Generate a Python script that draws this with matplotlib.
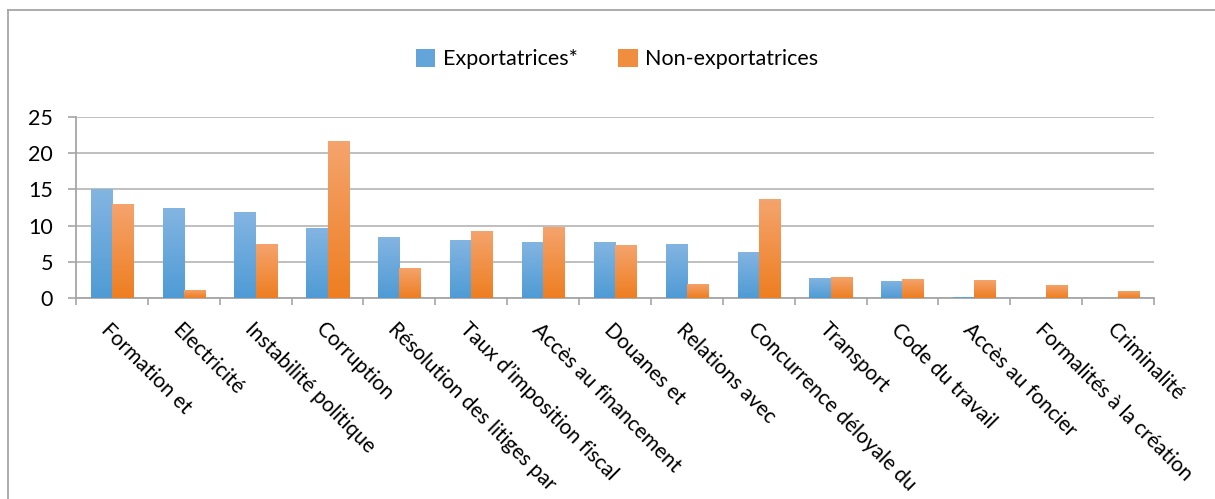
import numpy as np
import matplotlib
matplotlib.use("Agg")
import matplotlib.pyplot as plt
from matplotlib.patches import Patch
from matplotlib.lines import Line2D
from matplotlib.colors import LinearSegmentedColormap

plt.rcParams['font.family'] = ['Lato', 'DejaVu Sans']

categories = [
    "Formation et", "Electricité", "Instabilité politique", "Corruption",
    "Résolution des litiges par", "Taux d’imposition fiscal",
    "Accès au financement", "Douanes et", "Relations avec",
    "Concurrence déloyale du", "Transport", "Code du travail",
    "Accès au foncier", "Formalités à la création", "Criminalité",
]
exportatrices = [15.0, 12.4, 11.9, 9.7, 8.4, 8.0, 7.75, 7.75, 7.5, 6.4,
                 2.8, 2.4, 0.15, 0.0, 0.0]
non_exportatrices = [13.0, 1.15, 7.5, 21.65, 4.2, 9.3, 9.8, 7.3, 2.0, 13.7,
                     2.9, 2.65, 2.5, 1.8, 1.0]
series_names = ["Exportatrices*", "Non-exportatrices"]
yticks = [0, 5, 10, 15, 20, 25]

W, H = 1215, 499
fig = plt.figure(figsize=(W / 100, H / 100), dpi=100)
ax = fig.add_axes([76 / W, 1 - 298.3 / H, (1154 - 76) / W, (298.3 - 116.7) / H])

blue_cmap = LinearSegmentedColormap.from_list("b", ["#4F9BD5", "#84B5E2"])
orange_cmap = LinearSegmentedColormap.from_list("o", ["#EE7E21", "#F5A46E"])

x = np.arange(len(categories)) + 0.5
bw = 0.295
bars_a = ax.bar(x - bw / 2, exportatrices, bw, color="none", zorder=3)
bars_b = ax.bar(x + bw / 2, non_exportatrices, bw, color="none", zorder=3)

grad = np.linspace(0, 1, 256).reshape(-1, 1)
for bars, cmap in ((bars_a, blue_cmap), (bars_b, orange_cmap)):
    for b in bars:
        h = b.get_height()
        if h <= 0:
            continue
        x0 = b.get_x()
        im = ax.imshow(grad, cmap=cmap, origin="lower", aspect="auto",
                       extent=(x0, x0 + b.get_width(), 0, h), zorder=3,
                       interpolation="bilinear")
        im.set_clip_path(b)

ax.set_xlim(0, len(categories))
ax.set_ylim(0, 25)
ax.set_yticks(yticks)
ax.set_yticklabels([str(v) for v in yticks])
ax.yaxis.grid(True, color="#BFBFBF", linewidth=1.4, zorder=0)
ax.set_axisbelow(True)

ax.set_xticks(np.arange(len(categories) + 1))
ax.set_xticklabels([])
ax.tick_params(axis="x", length=5, width=1.2, color="#A6A6A6", direction="out")
ax.tick_params(axis="y", length=5.5, width=1.2, color="#A6A6A6", direction="out",
               labelsize=15.5, pad=11, labelcolor="black")
for s in ("top", "right"):
    ax.spines[s].set_visible(False)
for s in ("left", "bottom"):
    ax.spines[s].set_color("#A6A6A6")
    ax.spines[s].set_linewidth(1.3)

for xi, lab in zip(x, categories):
    ax.annotate(lab, xy=(xi, 0), xycoords=("data", "axes fraction"),
                xytext=(-8, -28), textcoords="offset pixels",
                rotation=-45, ha="left", va="center", rotation_mode="anchor",
                fontsize=15, color="black")

handles = [Patch(facecolor="#63A4DA", edgecolor="none"),
           Patch(facecolor="#F08D3E", edgecolor="none")]
fig.legend(handles, series_names, loc="center", bbox_to_anchor=(617 / W, 1 - 59 / H),
           ncol=2, frameon=False, fontsize=15.5, handlelength=0.9, handleheight=0.9,
           handletextpad=0.35, columnspacing=1.9)

# outer chart frame (left and top edges)
fig.add_artist(Line2D([7.5 / W, 7.5 / W], [0, 1 - 10 / H], transform=fig.transFigure,
                      color="#A6A6A6", linewidth=1.3))
fig.add_artist(Line2D([7.5 / W, 1], [1 - 10 / H, 1 - 10 / H], transform=fig.transFigure,
                      color="#A6A6A6", linewidth=1.3))

fig.savefig("out.png", dpi=100)
